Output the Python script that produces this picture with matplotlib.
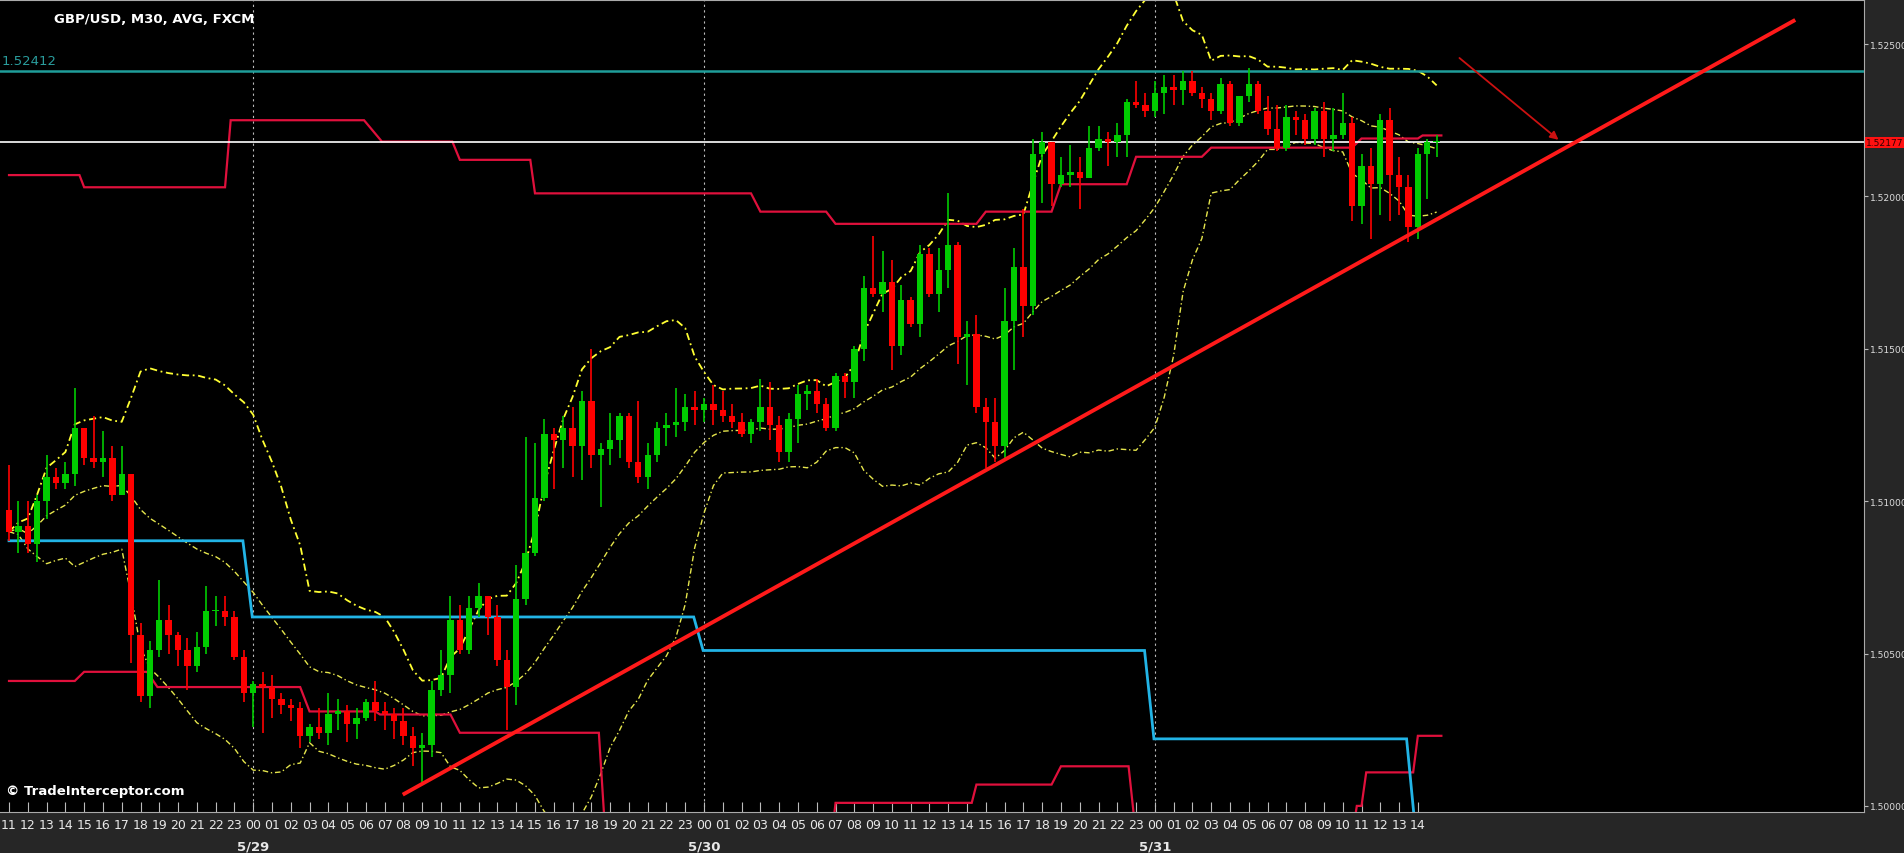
import numpy as np
import pandas as pd
import matplotlib
matplotlib.use("Agg")
import matplotlib.pyplot as plt

first_open = 1.5097
close = [1.5090,1.5092,1.5086,1.5100,1.5108,1.5106,1.5109,1.5124,1.5114,1.5113,
1.5114,1.5102,1.5109,1.5056,1.5036,1.5051,1.5061,1.5056,1.5051,1.5046,
1.5052,1.5064,1.5064,1.5062,1.5049,1.5037,1.5040,1.5039,1.5035,1.5033,
1.5032,1.5023,1.5026,1.5024,1.5030,1.5031,1.5027,1.5029,1.5034,1.5031,
1.5030,1.5028,1.5023,1.5019,1.5020,1.5038,1.5043,1.5061,1.5051,1.5065,
1.5069,1.5062,1.5048,1.5039,1.5068,1.5083,1.5101,1.5122,1.5120,1.5124,
1.5118,1.5133,1.5115,1.5117,1.5120,1.5128,1.5113,1.5108,1.5115,1.5124,
1.5125,1.5126,1.5131,1.5130,1.5132,1.5130,1.5128,1.5126,1.5122,1.5126,
1.5131,1.5125,1.5116,1.5127,1.5135,1.5136,1.5132,1.5124,1.5141,1.5139,
1.5150,1.5170,1.5168,1.5172,1.5151,1.5166,1.5158,1.5181,1.5168,1.5176,
1.5184,1.5154,1.5155,1.5131,1.5126,1.5118,1.5159,1.5177,1.5164,1.5214,
1.5218,1.5204,1.5207,1.5208,1.5206,1.5216,1.5219,1.5218,1.5220,1.5231,
1.5230,1.5228,1.5234,1.5236,1.5235,1.5238,1.5234,1.5232,1.5228,1.5237,
1.5224,1.5233,1.5237,1.5228,1.5222,1.5216,1.5226,1.5225,1.5219,1.5228,
1.5219,1.5220,1.5224,1.5197,1.5210,1.5204,1.5225,1.5207,1.5203,1.5190,
1.5214,1.5218,1.5218]
high = [1.5112,1.5100,1.5100,1.5102,1.5115,1.5111,1.5113,1.5137,1.5124,1.5128,
1.5123,1.5118,1.5118,1.5109,1.5060,1.5054,1.5074,1.5066,1.5057,1.5055,
1.5057,1.5072,1.5069,1.5069,1.5064,1.5051,1.5041,1.5044,1.5043,1.5037,
1.5035,1.5034,1.5027,1.5032,1.5037,1.5035,1.5033,1.5032,1.5035,1.5041,
1.5034,1.5032,1.5032,1.5026,1.5024,1.5041,1.5051,1.5069,1.5066,1.5069,
1.5073,1.5069,1.5066,1.5051,1.5079,1.5121,1.5119,1.5127,1.5124,1.5128,
1.5131,1.5136,1.5150,1.5119,1.5129,1.5129,1.5129,1.5133,1.5119,1.5126,
1.5129,1.5137,1.5135,1.5136,1.5134,1.5138,1.5136,1.5132,1.5129,1.5127,
1.5140,1.5139,1.5128,1.5129,1.5138,1.5138,1.5140,1.5134,1.5142,1.5142,
1.5151,1.5174,1.5187,1.5182,1.5179,1.5171,1.5167,1.5184,1.5183,1.5183,
1.5201,1.5185,1.5159,1.5161,1.5134,1.5134,1.5170,1.5183,1.5196,1.5219,
1.5221,1.5218,1.5213,1.5217,1.5213,1.5223,1.5223,1.5221,1.5224,1.5232,
1.5238,1.5234,1.5238,1.5240,1.5240,1.5241,1.5241,1.5236,1.5234,1.5239,
1.5238,1.5233,1.5242,1.5238,1.5233,1.5230,1.5230,1.5228,1.5227,1.5229,
1.5231,1.5229,1.5234,1.5226,1.5214,1.5216,1.5227,1.5229,1.5213,1.5207,
1.5216,1.5219,1.5220]
low = [1.5087,1.5083,1.5083,1.5080,1.5094,1.5104,1.5104,1.5105,1.5112,1.5111,
1.5108,1.5100,1.5102,1.5047,1.5034,1.5032,1.5049,1.5050,1.5046,1.5038,
1.5044,1.5050,1.5059,1.5059,1.5048,1.5034,1.5026,1.5024,1.5029,1.5030,
1.5028,1.5019,1.5021,1.5022,1.5020,1.5025,1.5021,1.5022,1.5028,1.5028,
1.5025,1.5022,1.5020,1.5013,1.5008,1.5016,1.5036,1.5037,1.5050,1.5050,
1.5062,1.5056,1.5046,1.5025,1.5033,1.5066,1.5082,1.5100,1.5104,1.5111,
1.5108,1.5107,1.5111,1.5098,1.5112,1.5114,1.5111,1.5106,1.5104,1.5113,
1.5118,1.5121,1.5123,1.5125,1.5126,1.5125,1.5126,1.5124,1.5121,1.5119,
1.5123,1.5120,1.5113,1.5113,1.5119,1.5130,1.5129,1.5123,1.5123,1.5134,
1.5134,1.5146,1.5167,1.5162,1.5143,1.5148,1.5157,1.5154,1.5167,1.5162,
1.5170,1.5145,1.5138,1.5129,1.5111,1.5113,1.5114,1.5143,1.5154,1.5161,
1.5198,1.5197,1.5203,1.5203,1.5196,1.5206,1.5215,1.5210,1.5213,1.5213,
1.5229,1.5226,1.5226,1.5227,1.5230,1.5230,1.5233,1.5229,1.5225,1.5227,
1.5223,1.5223,1.5231,1.5227,1.5220,1.5215,1.5215,1.5220,1.5217,1.5217,
1.5213,1.5215,1.5219,1.5192,1.5191,1.5186,1.5194,1.5192,1.5194,1.5185,
1.5186,1.5199,1.5213]

# step lines: (start candle, end candle, level)
upper_steps = [(0,7.5,1.5207),(8,23,1.5203),(23.6,37.8,1.5225),(39.7,47.2,1.5218),
               (48,55.5,1.5212),(56,79,1.5201),(80,87,1.5195),(88,103,1.5191),
               (104,111,1.5195),(112,119,1.5204),(120,127,1.5213),(128,143,1.5216),
               (144,150,1.5219),(150.5,152.5,1.5220)]
lower_steps = [(0,7,1.5041),(8,14.7,1.5044),(15.8,31,1.5039),(32,39,1.5031),
               (39.5,47,1.5030),(48,62.8,1.5024),(63.5,87.6,1.4990),(88,102.5,1.5001),
               (103,111,1.5007),(112,119.2,1.5013),(120,143,1.4990),(143.5,144,1.5000),
               (144.5,149.5,1.5011),(150,152.5,1.5023)]
cyan_steps = [(0,24.9,1.5087),(25.9,72.9,1.5062),(73.9,120.9,1.5051),(121.9,148.8,1.5022),(149.8,152,1.4990)]
trend_x = [42.1, 190.0]
trend_y = [1.5004, 1.52576]
arrow_x = [154.2, 165.2]
arrow_y = [1.5246, 1.5218]
resistance = 1.52412
last_price = 1.52177
day_labels = ["5/29", "5/30", "5/31"]
day_index = [26, 74, 122]
start_hour = 11

n = len(close)
opens = [first_open] + close[:-1]
idx = np.arange(n)

fig = plt.figure(figsize=(19.04, 8.54), dpi=100, facecolor="#262626")
ax = fig.add_axes([0, 41/854, 1864/1904, 812/854])
ax.set_facecolor("black")
ax.set_xlim(-0.96, 197.5)
ax.set_ylim(1.49980, 1.526445)

for d in day_index:
    ax.axvline(d, color="#bbbbbb", lw=0.8, ls=(0, (2, 3)), zorder=1)

s = pd.Series(close)
mid = s.rolling(20, min_periods=1).mean()
sd = s.rolling(20, min_periods=1).std(ddof=0).fillna(0)
ax.plot(idx, mid + 2*sd, color="#ffff33", lw=1.3, ls=(0, (4, 2, 1, 2)), zorder=2)
ax.plot(idx, mid, color="#e6e64d", lw=1.0, ls=(0, (4, 2, 1, 2)), zorder=2)
ax.plot(idx, mid - 2*sd, color="#e6e64d", lw=1.0, ls=(0, (4, 2, 1, 2)), zorder=2)

def step_line(steps, color, lw):
    xs, ys = [], []
    for a, b, v in steps:
        xs += [a, b]; ys += [v, v]
    ax.plot(xs, ys, color=color, lw=lw, zorder=3, solid_joinstyle="miter")

step_line(upper_steps, "#e0103c", 1.6)
step_line(lower_steps, "#e0103c", 1.6)
step_line(cyan_steps, "#22b4e6", 2.0)

ax.axhline(resistance, color="#1f9e9a", lw=1.8, zorder=3)
ax.axhline(last_price, color="white", lw=1.2, zorder=3)

for i in range(n):
    o, c = opens[i], close[i]
    h = max(high[i], o, c); l = min(low[i], o, c)
    col = "#00cc00" if c >= o else "#ff0000"
    ax.vlines(i, l, h, color=col, lw=1.2, zorder=4)
    ax.bar(i, max(abs(c - o), 0.00003), bottom=min(o, c), width=0.68, color=col, zorder=5, linewidth=0)

ax.plot(trend_x, trend_y, color="#ff1a1a", lw=2.8, zorder=6)
ax.annotate("", xy=(arrow_x[1], arrow_y[1]), xytext=(arrow_x[0], arrow_y[0]),
            arrowprops=dict(arrowstyle="-|>", color="#cc1111", lw=1.3, mutation_scale=12), zorder=6)

ax.yaxis.tick_right()
yt = [1.500, 1.505, 1.510, 1.515, 1.520, 1.525]
ax.set_yticks(yt)
ax.set_yticklabels([f"{v:.5f}" for v in yt], color="#dddddd", fontsize=6.6, family="DejaVu Sans")
ax.tick_params(axis="y", length=3, color="#bbbbbb", pad=1)
ax.text(1.0008, last_price, f"{last_price:.5f}", transform=ax.get_yaxis_transform(),
        va="center", ha="left", fontsize=6.6, color="#330000",
        bbox=dict(boxstyle="square,pad=0.1", fc="#ff1111", ec="none"))
ax.text(0.001, resistance + 0.00012, f"{resistance:.5f}", transform=ax.get_yaxis_transform(),
        va="bottom", ha="left", fontsize=9.5, color="#2a9d9d")

xt, xl = [], []
for i in range(0, 151, 2):
    xt.append(i); xl.append(f"{(start_hour + i//2) % 24:02d}")
ax.set_xticks(xt)
ax.set_xticklabels(xl, color="#e8e8e8", fontsize=9, family="DejaVu Sans")
ax.tick_params(axis="x", direction="in", length=7, color="#bbbbbb", pad=4)
for d, lab in zip(day_index, day_labels):
    ax.text(d, -0.042, lab, transform=ax.get_xaxis_transform(), ha="center", va="center",
            color="#e8e8e8", fontsize=9.5, fontweight="bold")

for side in ["top", "right", "bottom"]:
    ax.spines[side].set_color("#aaaaaa")
ax.spines["left"].set_visible(False)

ax.text(0.029, 0.985, "GBP/USD, M30, AVG, FXCM", transform=ax.transAxes, color="white",
        fontsize=9.5, fontweight="bold", va="top", ha="left")
ax.text(0.003, 0.018, "© TradeInterceptor.com", transform=ax.transAxes, color="white",
        fontsize=9.5, fontweight="bold", va="bottom", ha="left")

fig.savefig("out.png", dpi=100, facecolor=fig.get_facecolor())
